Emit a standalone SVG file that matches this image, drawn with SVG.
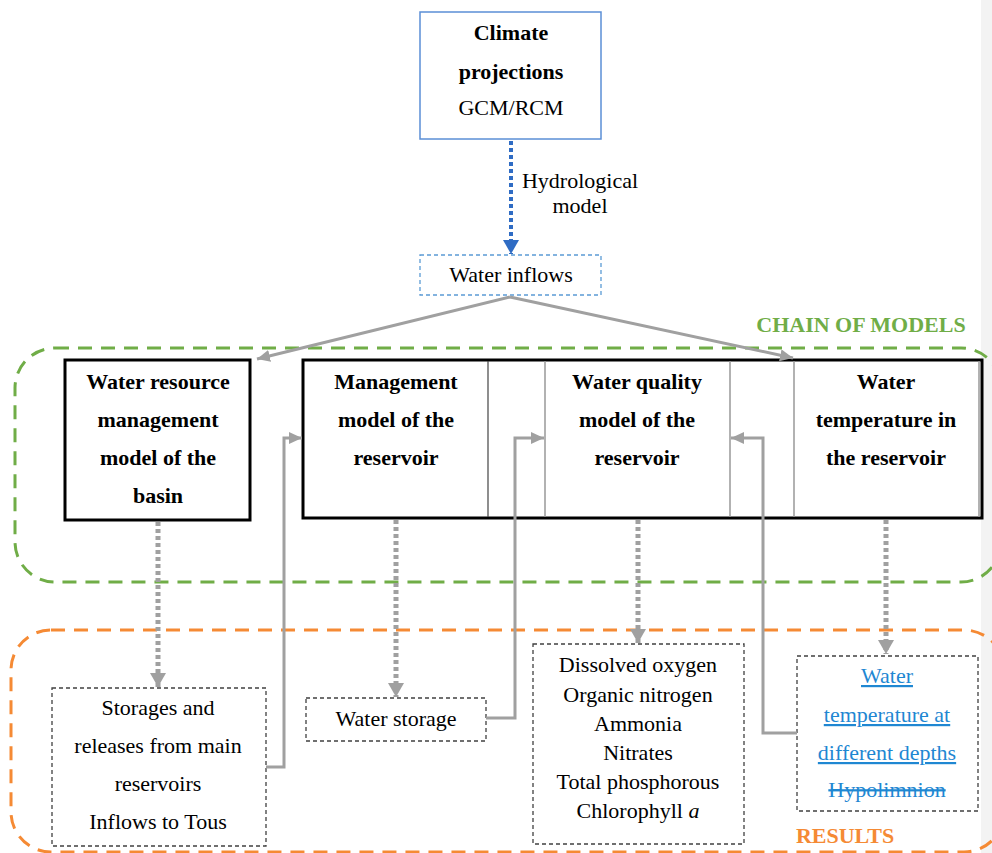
<svg xmlns="http://www.w3.org/2000/svg" width="992" height="853" viewBox="0 0 992 853">
<style>
text{font-family:"Liberation Serif","Times New Roman",serif;font-size:22px;fill:#000;text-anchor:middle}
.b{font-weight:bold}
.grp{fill:none;stroke-width:3;stroke-dasharray:14 9}
.model{fill:#fff;stroke:#000;stroke-width:3}
.res{fill:#fff;stroke:#404040;stroke-width:1.3;stroke-dasharray:4 3}
.flow{fill:none;stroke:#a0a0a0;stroke-width:3}
.dot{fill:none;stroke:#a0a0a0;stroke-width:5;stroke-dasharray:4 3}
.blu{fill:#1f87d2;text-decoration:underline}
</style>
<defs>
<marker id="ah" markerUnits="userSpaceOnUse" markerWidth="14" markerHeight="12" refX="13" refY="6" orient="auto"><path d="M0,0 L13,6 L0,12 Z" fill="#a0a0a0"/></marker>
<marker id="ahd" markerUnits="userSpaceOnUse" markerWidth="16" markerHeight="16" refX="14" refY="8" orient="auto"><path d="M0,0 L14,8 L0,16 Z" fill="#a0a0a0"/></marker>
<marker id="ahb" markerUnits="userSpaceOnUse" markerWidth="16" markerHeight="16" refX="14" refY="8" orient="auto"><path d="M0,0 L14,8 L0,16 Z" fill="#2f6cc4"/></marker>
</defs>
<rect x="981" y="0" width="11" height="853" fill="#f3f3f3"/>
<g id="chain-of-models">
<rect class="grp" x="15" y="348" width="986" height="234" rx="40" stroke="#70ad47"/>
<text class="b" x="861" y="332" style="fill:#70ad47">CHAIN OF MODELS</text>
</g>
<g id="results">
<rect class="grp" x="11" y="630" width="993" height="222" rx="40" stroke="#f58a34"/>
<text class="b" x="845" y="843" style="fill:#f58a34">RESULTS</text>
</g>
<g id="climate">
<rect x="420" y="12" width="181" height="127" fill="#fff" stroke="#5b8fd6" stroke-width="1.5"/>
<text class="b" x="511" y="40">Climate</text>
<text class="b" x="511" y="79">projections</text>
<text x="511" y="115">GCM/RCM</text>
</g>
<g id="water-inflows">
<rect x="420" y="255" width="181" height="40" fill="#fff" stroke="#5b9bd5" stroke-width="1.3" stroke-dasharray="4 3"/>
<text x="511" y="282">Water inflows</text>
</g>
<g id="basin-model">
<rect class="model" x="65" y="360" width="185" height="160"/>
<text class="b" x="158" y="389">Water resource</text>
<text class="b" x="158" y="427">management</text>
<text class="b" x="158" y="465">model of the</text>
<text class="b" x="158" y="503">basin</text>
</g>
<g id="reservoir-models">
<rect class="model" x="303" y="360" width="679" height="158"/>
<line x1="488" y1="361" x2="488" y2="517" stroke="#444" stroke-width="1.2"/>
<line x1="545" y1="361" x2="545" y2="517" stroke="#999" stroke-width="1.5"/>
<line x1="730" y1="361" x2="730" y2="517" stroke="#999" stroke-width="1.5"/>
<line x1="794" y1="361" x2="794" y2="517" stroke="#999" stroke-width="1.5"/>
<line x1="979" y1="361" x2="979" y2="517" stroke="#999" stroke-width="1.5"/>
</g>
<g id="management-model">
<text class="b" x="396" y="389">Management</text>
<text class="b" x="396" y="427">model of the</text>
<text class="b" x="396" y="465">reservoir</text>
</g>
<g id="quality-model">
<text class="b" x="637" y="389">Water quality</text>
<text class="b" x="637" y="427">model of the</text>
<text class="b" x="637" y="465">reservoir</text>
</g>
<g id="temperature-model">
<text class="b" x="886" y="389">Water</text>
<text class="b" x="886" y="427">temperature in</text>
<text class="b" x="886" y="465">the reservoir</text>
</g>
<g id="storages-results">
<rect class="res" x="52" y="688" width="214" height="158"/>
<text x="158" y="715">Storages and</text>
<text x="158" y="753">releases from main</text>
<text x="158" y="791">reservoirs</text>
<text x="158" y="829">Inflows to Tous</text>
</g>
<g id="water-storage">
<rect class="res" x="306" y="698" width="180" height="43"/>
<text x="396" y="726">Water storage</text>
</g>
<g id="quality-results">
<rect class="res" x="533" y="644" width="211" height="200"/>
<text x="638" y="672">Dissolved oxygen</text>
<text x="638" y="702">Organic nitrogen</text>
<text x="638" y="731">Ammonia</text>
<text x="638" y="760">Nitrates</text>
<text x="638" y="789">Total phosphorous</text>
<text x="638" y="818">Chlorophyll <tspan font-style="italic">a</tspan></text>
</g>
<g id="temperature-results">
<rect class="res" x="797" y="656" width="181" height="155"/>
<text class="blu" x="887" y="683">Water</text>
<text class="blu" x="887" y="722">temperature at</text>
<text class="blu" x="887" y="760">different depths</text>
<text x="887" y="797" style="fill:#1f87d2;text-decoration:line-through">Hypolimnion</text>
</g>
<g id="connectors">
<line x1="511" y1="141" x2="511" y2="254" stroke="#2f6cc4" stroke-width="4" stroke-dasharray="4 3" marker-end="url(#ahb)"/>
<text x="580" y="188">Hydrological</text>
<text x="580" y="213">model</text>
<line class="flow" x1="510" y1="297" x2="257" y2="359" marker-end="url(#ah)"/>
<line class="flow" x1="510" y1="297" x2="793" y2="358" marker-end="url(#ah)"/>
<line class="dot" x1="158" y1="522" x2="158" y2="687" marker-end="url(#ahd)"/>
<line class="dot" x1="396" y1="520" x2="396" y2="697" marker-end="url(#ahd)"/>
<line class="dot" x1="638" y1="520" x2="638" y2="643" marker-end="url(#ahd)"/>
<line class="dot" x1="886" y1="520" x2="886" y2="654" marker-end="url(#ahd)"/>
<path class="flow" d="M266,767 H284 V438 H302" marker-end="url(#ah)"/>
<path class="flow" d="M486,718 H515 V438 H544" marker-end="url(#ah)"/>
<path class="flow" d="M797,733 H763 V438 H731" marker-end="url(#ah)"/>
</g>
</svg>
